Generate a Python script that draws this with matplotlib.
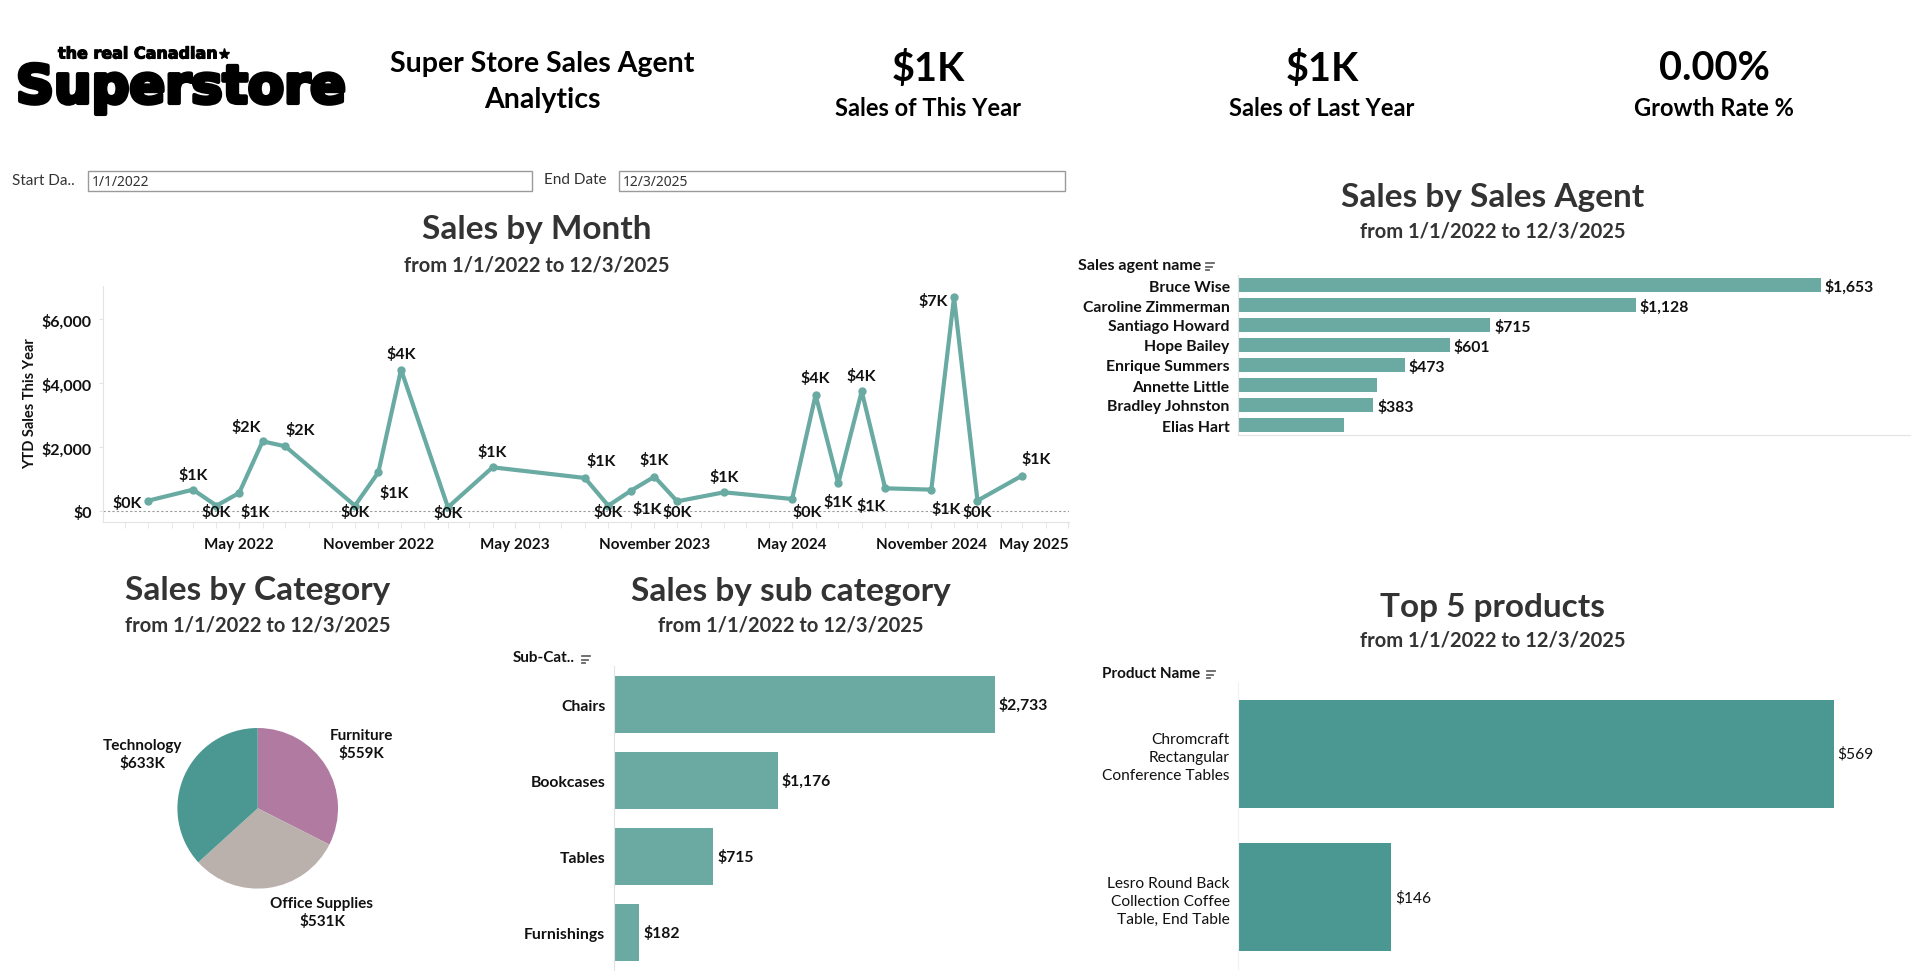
import matplotlib
matplotlib.use("Agg")
import matplotlib.pyplot as plt
import matplotlib.dates as mdates
import matplotlib.patheffects as pe
from matplotlib.patches import Rectangle
from matplotlib.lines import Line2D
import numpy as np
import pandas as pd

# ---------------- data ----------------
kpi_values = ["$1K", "$1K", "0.00%"]
kpi_labels = ["Sales of This Year", "Sales of Last Year", "Growth Rate %"]
start_date = "1/1/2022"
end_date = "12/3/2025"

month_dates = ["2022-01-01", "2022-03-01", "2022-04-01", "2022-05-01", "2022-06-01",
               "2022-07-01", "2022-10-01", "2022-11-01", "2022-12-01", "2023-02-01",
               "2023-04-01", "2023-08-01", "2023-09-01", "2023-10-01", "2023-11-01",
               "2023-12-01", "2024-02-01", "2024-05-01", "2024-06-01", "2024-07-01",
               "2024-08-01", "2024-09-01", "2024-11-01", "2024-12-01", "2025-01-01",
               "2025-03-01"]
month_sales = [333, 677, 177, 573, 2187, 2031, 177, 1219, 4427, 125,
               1375, 1042, 177, 646, 1083, 312, 594, 385, 3635, 875,
               3750, 719, 677, 6687, 333, 1115]
month_tick_dates = ["2022-05-01", "2022-11-01", "2023-05-01", "2023-11-01",
                    "2024-05-01", "2024-11-01", "2025-05-01"]
sales_ticks = [0, 2000, 4000, 6000]

agents = ["Bruce Wise", "Caroline Zimmerman", "Santiago Howard", "Hope Bailey",
          "Enrique Summers", "Annette Little", "Bradley Johnston", "Elias Hart"]
agent_sales = [1653, 1128, 715, 601, 473, 395, 383, 300]
agent_label_shown = [True, True, True, True, True, False, True, False]

categories = ["Furniture", "Office Supplies", "Technology"]
category_sales_k = [559, 531, 633]

sub_categories = ["Chairs", "Bookcases", "Tables", "Furnishings"]
sub_category_sales = [2733, 1176, 715, 182]

products = ["Chromcraft\nRectangular\nConference Tables",
            "Lesro Round Back\nCollection Coffee\nTable, End Table"]
product_sales = [569, 146]

# ---------------- style ----------------
LINE = "#69aaa3"
BAR = "#6aaaa3"
BAR_DARK = "#4a9891"
PIE_COLORS = {"Furniture": "#b07aa1", "Office Supplies": "#bab0ac", "Technology": "#4a9891"}
TITLE_C = "#333333"
TXT = "#111111"
AXLINE = "#e3e3e3"
FONT = ["Lato", "DejaVu Sans"]

plt.rcParams['font.family'] = FONT

W, H = 1920, 978
fig = plt.figure(figsize=(19.2, 9.78), dpi=100)
fig.patch.set_facecolor("white")


def fx(x):
    return x / W


def fy(y):
    return 1 - y / H


def add_ax(l, t, r, b):
    return fig.add_axes([fx(l), fy(b), (r - l) / W, (b - t) / H])


def ftext(x, y, s, **kw):
    kw.setdefault("ha", "center")
    kw.setdefault("va", "center")
    return fig.text(fx(x), fy(y), s, **kw)


def sort_icon(x, y):
    for i, ln in enumerate([8, 5.5, 3]):
        fig.add_artist(Line2D([fx(x), fx(x + ln)], [fy(y + i * 3.5), fy(y + i * 3.5)],
                              transform=fig.transFigure, color="#666666", lw=1.3))


# ---------------- header ----------------
ftext(58, 55, "the real Canadian", ha="left", fontsize=11.5, fontweight="bold",
      color="black", family=["DejaVu Sans"],
      path_effects=[pe.withStroke(linewidth=0.8, foreground="black")])
fig.add_artist(Line2D([fx(224)], [fy(55)], transform=fig.transFigure, marker="*",
                      markersize=8, color="black"))
ftext(16, 104, "Superstore", ha="left", va="baseline", fontsize=38, fontweight="bold",
      color="black", family=["DejaVu Sans"],
      path_effects=[pe.withStroke(linewidth=3, foreground="black")])

ftext(542, 64, "Super Store Sales Agent", fontsize=20.5, fontweight="bold", color="black")
ftext(542, 100, "Analytics", fontsize=20.5, fontweight="bold", color="black")

for xc, v, lab in zip([928, 1322, 1714], kpi_values, kpi_labels):
    ftext(xc, 69, v, fontsize=28.5, fontweight="bold", color="black")
    ftext(xc, 109, lab, fontsize=17, fontweight="bold", color="black")

# filter row
ftext(12, 181, "Start Da..", ha="left", fontsize=11, color="#333333")
fig.add_artist(Rectangle((fx(87.5), fy(191.7)), (532.4 - 87.5) / W, (191.7 - 172.3) / H,
                         transform=fig.transFigure, fill=False, edgecolor="#9a9a9a", lw=1))
ftext(92, 182.5, start_date, ha="left", fontsize=10, color="#333333", family=["Noto Sans", "DejaVu Sans"])
ftext(544, 180, "End Date", ha="left", fontsize=11, color="#333333")
fig.add_artist(Rectangle((fx(619), fy(191.7)), (1064.7 - 619) / W, (191.7 - 172.3) / H,
                         transform=fig.transFigure, fill=False, edgecolor="#9a9a9a", lw=1))
ftext(623, 182.5, end_date, ha="left", fontsize=10, color="#333333", family=["Noto Sans", "DejaVu Sans"])

subtitle = f"from {start_date} to {end_date}"


def titles(xc, y1, y2, title):
    ftext(xc, y1, title, fontsize=24, fontweight="bold", color=TITLE_C)
    ftext(xc, y2, subtitle, fontsize=14.5, fontweight="bold", color=TITLE_C)


# ---------------- Sales by Month ----------------
titles(537, 230, 265, "Sales by Month")
ax = add_ax(103, 287, 1069, 523)
d = pd.to_datetime(month_dates)
ax.plot(d, month_sales, color=LINE, lw=3, marker="o", ms=5, solid_joinstyle="round", zorder=3)
ax.set_ylim(-334, 7040)
ax.set_xlim(pd.Timestamp("2021-11-02"), pd.Timestamp("2025-05-02"))
ax.axhline(0, color="#9a9a9a", lw=0.8, ls=(0, (2, 2)), zorder=1)
for s in ["top", "right"]:
    ax.spines[s].set_visible(False)
for s in ["left", "bottom"]:
    ax.spines[s].set_color(AXLINE)
ax.set_yticks(sales_ticks)
ax.set_yticklabels([f"${v:,.0f}" for v in sales_ticks], fontsize=11.5, fontweight="bold", color=TXT)
tick_d = pd.to_datetime(month_tick_dates)
ax.set_xticks(tick_d)
xt = ax.set_xticklabels([t.strftime("%B %Y") for t in tick_d], fontsize=11,
                        fontweight="bold", color=TXT)
xt[-1].set_ha("right")
ax.xaxis.set_minor_locator(mdates.MonthLocator())
ax.tick_params(axis="x", which="both", length=4, color=AXLINE, pad=7)
ax.tick_params(axis="y", length=3, color=AXLINE, pad=5)
ftext(30, 404, "YTD Sales This Year", rotation=90, fontsize=10.5, fontweight="bold", color=TXT)

label_offsets = [(-21, -2), (0, 15), (0, -6), (16, -19), (-16, 15), (15, 17), (0, -6),
                 (16, -20), (0, 16), (0, -5), (0, 16), (16, 17), (0, -6), (16, -18),
                 (0, 17), (0, -10), (0, 16), (15, -13), (0, 17), (0, -18), (0, 16),
                 (-14, -17), (15, -19), (-21, -3), (0, -11), (14, 17)]
for xi, yi, off in zip(d, month_sales, label_offsets):
    ax.annotate(f"${round(yi / 1000)}K", (xi, yi), xytext=off, textcoords="offset pixels",
                ha="center", va="center", fontsize=11.5, fontweight="bold", color=TXT,
                zorder=4, annotation_clip=False)

# ---------------- Sales by Sales Agent ----------------
titles(1493, 197, 232, "Sales by Sales Agent")
ftext(1078, 266, "Sales agent name", ha="left", fontsize=11.5, fontweight="bold", color=TXT)
sort_icon(1206, 264)
ax2 = add_ax(1238, 276, 1910, 436)
ya = np.arange(len(agents))
ax2.barh(ya, agent_sales, height=0.72, color=BAR)
ax2.set_ylim(len(agents) - 0.5, -0.5)
ax2.set_xlim(0, 1906)
ax2.set_yticks(ya)
ax2.set_yticklabels(agents, fontsize=11.3, fontweight="bold", color=TXT)
ax2.tick_params(axis="y", length=0, pad=6)
ax2.set_xticks([])
for s in ["top", "right"]:
    ax2.spines[s].set_visible(False)
for s in ["left", "bottom"]:
    ax2.spines[s].set_color(AXLINE)
for yi, v, show in zip(ya, agent_sales, agent_label_shown):
    if show:
        ax2.annotate(f"${v:,}", (v, yi), xytext=(4, -1), textcoords="offset pixels",
                     ha="left", va="center", fontsize=11.3, fontweight="bold", color=TXT)

# ---------------- Sales by Category (pie) ----------------
titles(258, 591, 625, "Sales by Category")
pcx, pcy, pr = 257.7, 809.3, 80.3
ax5 = add_ax(pcx - pr, pcy - pr, pcx + pr, pcy + pr)
ax5.pie(category_sales_k, colors=[PIE_COLORS[c] for c in categories], startangle=90,
        counterclock=False, radius=1, wedgeprops=dict(linewidth=0))
ax5.set_xlim(-1, 1)
ax5.set_ylim(-1, 1)
ax5.set_aspect("equal")
ax5.axis("off")
pie_label_pos = {"Furniture": (361, 745), "Office Supplies": (322, 913), "Technology": (142, 755)}
for c, v in zip(categories, category_sales_k):
    px, py = pie_label_pos[c]
    ftext(px, py, f"{c}\n${v}K", fontsize=11, fontweight="bold", color=TXT,
          linespacing=1.3)

# ---------------- Sales by sub category ----------------
titles(791, 592, 625, "Sales by sub category")
ftext(513, 658, "Sub-Cat..", ha="left", fontsize=11, fontweight="bold", color=TXT)
sort_icon(582, 657)
ax3 = add_ax(613.8, 667.3, 1070, 971.3)
ys = np.arange(len(sub_categories))
ax3.barh(ys, sub_category_sales, height=0.745, color=BAR)
ax3.set_ylim(len(sub_categories) - 0.5, -0.5)
ax3.set_xlim(0, 3274)
ax3.set_yticks(ys)
ax3.set_yticklabels(sub_categories, fontsize=11.3, fontweight="bold", color=TXT)
ax3.tick_params(axis="y", length=0, pad=6)
ax3.set_xticks([])
for s in ["top", "right", "bottom"]:
    ax3.spines[s].set_visible(False)
ax3.spines["left"].set_color(AXLINE)
for yi, v in zip(ys, sub_category_sales):
    ax3.annotate(f"${v:,}", (v, yi), xytext=(4, 0), textcoords="offset pixels",
                 ha="left", va="center", fontsize=11.3, fontweight="bold", color=TXT)

# ---------------- Top 5 products ----------------
titles(1493, 608, 641, "Top 5 products")
ftext(1102, 674, "Product Name", ha="left", fontsize=11, fontweight="bold", color=TXT)
sort_icon(1207, 672)
ax4 = add_ax(1238, 683, 1910, 970)
yp = np.arange(len(products))
ax4.barh(yp, product_sales, height=0.75, color=BAR_DARK)
ax4.set_ylim(len(products) - 0.5, -0.5)
ax4.set_xlim(0, 642)
ax4.set_yticks(yp)
ax4.set_yticklabels(products, fontsize=11.2, color=TXT, linespacing=1.35)
ax4.tick_params(axis="y", length=0, pad=6)
ax4.set_xticks([])
for s in ["top", "right", "bottom"]:
    ax4.spines[s].set_visible(False)
ax4.spines["left"].set_color("#f0f0f0")
for yi, v in zip(yp, product_sales):
    ax4.annotate(f"${v:,}", (v, yi), xytext=(4, 0), textcoords="offset pixels",
                 ha="left", va="center", fontsize=11.2, color=TXT)

fig.savefig("out.png", dpi=100, facecolor="white")
